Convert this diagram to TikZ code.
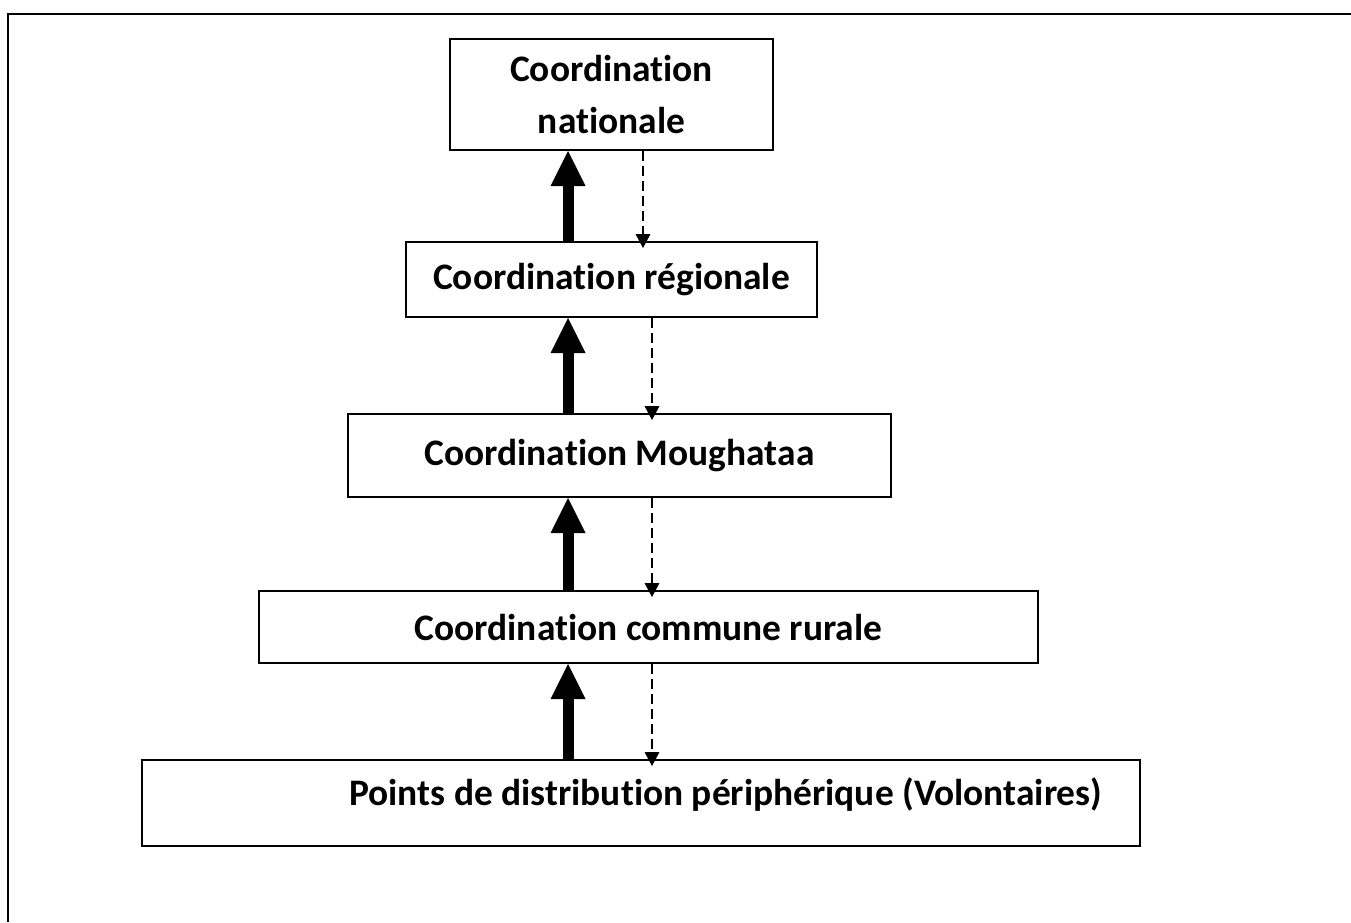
\documentclass[tikz,border=0pt]{standalone}
\usepackage{fontspec}
\setmainfont{Carlito}[Ligatures=NoCommon]
\usepackage{tikz}
\usetikzlibrary{arrows.meta}

\begin{document}
\begin{tikzpicture}[
	Box/.style={draw, line width=0.04cm, inner sep=0pt, align=center,
		font=\bfseries\fontsize{21.3}{29.6}\selectfont},
	UpArrow/.style={line width=0.22cm,
		-{Triangle[width=0.70cm,length=0.70cm,line width=0pt]}},
	DownArrow/.style={line width=0.03cm, dash pattern=on 0.20cm off 0.10cm,
		shorten >=-0.14cm, -{Triangle[width=0.30cm,length=0.28cm,line width=0pt]}},
	]
	
	\useasboundingbox (0.00cm,0.00cm) rectangle (27.02cm,-18.44cm);
	
	% ---------------------
	% Frame
	\coordinate (FrameCorner) at (0.16cm,-0.28cm);
	\coordinate (FrameBottom) at (0.16cm,-18.44cm);
	\coordinate (FrameRight) at (27.02cm,-0.28cm);
	
	\draw[line width=0.04cm] (FrameBottom) -- (FrameCorner) -- (FrameRight);
	
	% ---------------------
	% Levels
	\node[Box, minimum width=6.46cm, minimum height=2.22cm] (Nationale) at (12.23cm,-1.89cm)
		{Coordination\\nationale};
	\node[Box, minimum width=8.22cm, minimum height=1.50cm] (Regionale) at (12.23cm,-5.59cm)
		{Coordination régionale};
	\node[Box, minimum width=10.86cm, minimum height=1.66cm] (Moughataa) at (12.39cm,-9.11cm)
		{Coordination Moughataa};
	\node[Box, minimum width=15.58cm, minimum height=1.44cm] (Commune) at (12.97cm,-12.54cm)
		{Coordination commune rurale};
	\node[Box, minimum width=19.96cm, minimum height=1.72cm, text width=18.44cm,
		inner xsep=0.76cm, align=flush right, text height=0.50cm, text depth=0.42cm] (Points) at (12.82cm,-16.06cm)
		{Points de distribution périphérique (Volontaires)};
	
	% ---------------------
	% Arrow axes
	\coordinate (UpAxis) at (11.36cm,0.00cm);
	\coordinate (DownAxis) at (13.04cm,0.00cm);
	\path (DownAxis) +(-0.18cm,0.00cm) coordinate (DownAxisTop);
	
	% ------------------------------------------------
	% Reporting (up) and instructions (down)
	\draw[UpArrow] (Regionale.north -| UpAxis) -- (Nationale.south -| UpAxis);
	\draw[UpArrow] (Moughataa.north -| UpAxis) -- (Regionale.south -| UpAxis);
	\draw[UpArrow] (Commune.north -| UpAxis) -- (Moughataa.south -| UpAxis);
	\draw[UpArrow] (Points.north -| UpAxis) -- (Commune.south -| UpAxis);
	
	\draw[DownArrow] (Nationale.south -| DownAxisTop) -- (Regionale.north -| DownAxisTop);
	\draw[DownArrow] (Regionale.south -| DownAxis) -- (Moughataa.north -| DownAxis);
	\draw[DownArrow] (Moughataa.south -| DownAxis) -- (Commune.north -| DownAxis);
	\draw[DownArrow] (Commune.south -| DownAxis) -- (Points.north -| DownAxis);
	
\end{tikzpicture}
\end{document}
